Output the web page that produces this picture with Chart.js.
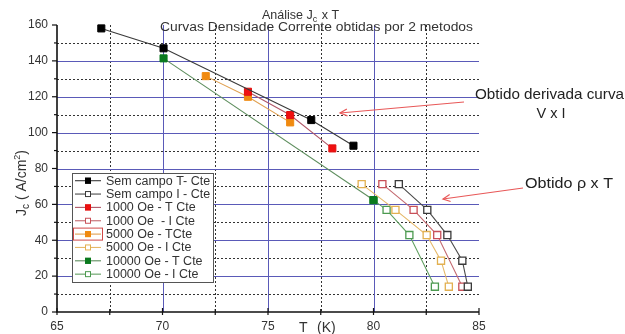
<!DOCTYPE html>
<html><head><meta charset="utf-8">
<script src="https://cdn.jsdelivr.net/npm/chart.js@4/dist/chart.umd.min.js"></script>
<style>html,body{margin:0;padding:0;background:#fff;}#wrap{width:625px;height:334px;position:relative;}</style>
</head><body><div id="wrap"><canvas id="c" width="625" height="334"></canvas></div>
<script>
// ---- data ----
const seriesLabels = ["Sem campo T- Cte","Sem campo I - Cte","1000 Oe - T Cte","1000 Oe  - I Cte","5000 Oe - TCte","5000 Oe - I Cte","10000 Oe - T Cte","10000 Oe - I Cte"];
const tSemCampoT = [67.1, 70.05, 77.05, 79.05];
const jSemCampoT = [158.1, 147.0, 107.0, 92.7];
const tSemCampoI = [81.2, 82.55, 83.5, 84.21, 84.47];
const jSemCampoI = [71.3, 56.9, 42.9, 28.6, 14.1];
const t1000T = [74.05, 76.05, 78.05];
const j1000T = [122.8, 109.8, 91.2];
const t1000I = [80.42, 81.9, 83.02, 84.21];
const j1000I = [71.3, 56.9, 42.9, 14.1];
const t5000T = [72.05, 74.05, 76.05];
const j5000T = [131.5, 120.0, 105.7];
const t5000I = [79.44, 81.04, 82.52, 83.2, 83.57];
const j5000I = [71.3, 56.9, 42.9, 28.6, 14.1];
const t10000T = [70.05, 80.0];
const j10000T = [141.4, 62.4];
const t10000I = [80.0, 80.62, 81.7, 82.91];
const j10000I = [62.4, 56.9, 42.9, 14.1];
const xMajorTicks = [65, 70, 75, 80, 85];
const xMinorTicks = [67.5, 72.5, 77.5, 82.5];
const yMajorTicks = [0, 20, 40, 60, 80, 100, 120, 140, 160];
const yMinorTicks = [10, 30, 50, 70, 90, 110, 130, 150];

const FONT = '"Liberation Sans", Arial, sans-serif';
const pts = (xs, ys) => xs.map((x, i) => ({x: x, y: ys[i]}));

const styles = [
  {line:'#3a3a3a', border:'#000000', fill:'#000000'},
  {line:'#4a4a4a', border:'#3a3a3a', fill:'#ffffff'},
  {line:'#b05868', border:'#e01010', fill:'#f01010'},
  {line:'#c46a70', border:'#c85058', fill:'#ffffff'},
  {line:'#e0a050', border:'#f08a10', fill:'#f08a10'},
  {line:'#e6b868', border:'#e2b050', fill:'#ffffff'},
  {line:'#5e8e5e', border:'#0a7a1e', fill:'#0a7a1e'},
  {line:'#62a062', border:'#4c9a50', fill:'#ffffff'}
];
const allData = [
  pts(tSemCampoT, jSemCampoT), pts(tSemCampoI, jSemCampoI),
  pts(t1000T, j1000T), pts(t1000I, j1000I),
  pts(t5000T, j5000T), pts(t5000I, j5000I),
  pts(t10000T, j10000T), pts(t10000I, j10000I)
];
const datasets = allData.map((d, i) => ({
  label: seriesLabels[i],
  data: d,
  showLine: true,
  borderColor: styles[i].line,
  borderWidth: 1.1,
  tension: 0,
  pointStyle: 'rect',
  pointRadius: 5,
  pointBorderWidth: i % 2 ? 1.3 : 1,
  pointBorderColor: styles[i].border,
  pointBackgroundColor: styles[i].fill,
  clip: false
}));

function fitText(ctx, text, x, y, width, align) {
  const w = ctx.measureText(text).width;
  const s = width / w;
  ctx.save();
  ctx.translate(x, y);
  ctx.scale(s, 1);
  ctx.textAlign = align || 'left';
  ctx.fillText(text, 0, 0);
  ctx.restore();
}

const decor = {
  id: 'decor',
  beforeDatasetsDraw(chart) {
    const ctx = chart.ctx, a = chart.chartArea;
    const xs = chart.scales.x, ys = chart.scales.y;
    ctx.save();
    ctx.lineWidth = 1;
    // minor dotted grid
    ctx.strokeStyle = '#333';
    ctx.setLineDash([2, 2]);
    yMinorTicks.forEach(v => { const p = Math.round(ys.getPixelForValue(v)) + 0.5; ctx.beginPath(); ctx.moveTo(a.left, p); ctx.lineTo(a.right, p); ctx.stroke(); });
    xMinorTicks.forEach(v => { const p = Math.round(xs.getPixelForValue(v)) + 0.5; ctx.beginPath(); ctx.moveTo(p, a.top); ctx.lineTo(p, a.bottom); ctx.stroke(); });
    // major blue grid
    ctx.setLineDash([]);
    ctx.strokeStyle = '#5a5ab8';
    yMajorTicks.filter(v => v > 0 && v < 160).forEach(v => { const p = Math.round(ys.getPixelForValue(v)) + 0.5; ctx.beginPath(); ctx.moveTo(a.left, p); ctx.lineTo(a.right, p); ctx.stroke(); });
    xMajorTicks.filter(v => v > 65 && v < 85).forEach(v => { const p = Math.round(xs.getPixelForValue(v)) + 0.5; ctx.beginPath(); ctx.moveTo(p, a.top); ctx.lineTo(p, a.bottom); ctx.stroke(); });
    ctx.restore();
  },
  afterDatasetsDraw(chart) {
    const ctx = chart.ctx, a = chart.chartArea;
    const xs = chart.scales.x, ys = chart.scales.y;
    ctx.save();
    ctx.strokeStyle = '#111';
    ctx.lineWidth = 1.6;
    ctx.beginPath(); ctx.moveTo(a.left, a.top); ctx.lineTo(a.left, a.bottom); ctx.lineTo(a.right, a.bottom); ctx.stroke();
    ctx.lineWidth = 1.2;
    yMajorTicks.forEach(v => { const p = ys.getPixelForValue(v); ctx.beginPath(); ctx.moveTo(a.left - 5, p); ctx.lineTo(a.left, p); ctx.stroke(); });
    yMinorTicks.forEach(v => { const p = ys.getPixelForValue(v); ctx.beginPath(); ctx.moveTo(a.left - 3, p); ctx.lineTo(a.left, p); ctx.stroke(); });
    xMajorTicks.forEach(v => { const p = xs.getPixelForValue(v); ctx.beginPath(); ctx.moveTo(p, a.bottom - 4); ctx.lineTo(p, a.bottom + 3); ctx.stroke(); });
    xMinorTicks.forEach(v => { const p = xs.getPixelForValue(v); ctx.beginPath(); ctx.moveTo(p, a.bottom - 3); ctx.lineTo(p, a.bottom + 3); ctx.stroke(); });
    ctx.restore();
  },
  afterDraw(chart) {
    const ctx = chart.ctx;
    ctx.save();
    ctx.fillStyle = '#333';
    ctx.textBaseline = 'alphabetic';
    // title: Análise Jc x T
    ctx.font = '12.5px ' + FONT;
    let x = 262;
    const p1 = 'Análise J';
    ctx.fillText(p1, x, 19); x += ctx.measureText(p1).width;
    ctx.font = '9px ' + FONT;
    ctx.fillText('c', x, 22); x += ctx.measureText('c').width + 1;
    ctx.font = '12.5px ' + FONT;
    ctx.fillText(' x T', x, 19);
    // subtitle
    ctx.font = '12.5px ' + FONT;
    fitText(ctx, 'Curvas Densidade Corrente obtidas por 2 metodos', 160, 31, 313, 'left');
    // x axis title
    ctx.font = '14px ' + FONT;
    ctx.fillText('T', 299, 332);
    ctx.fillText('(K)', 317, 332);
    // y axis title (rotated)
    ctx.translate(26, 183);
    ctx.rotate(-Math.PI / 2);
    const parts = [
      {t:'J', f:14, dy:0}, {t:'c', f:10, dy:3}, {t:' ( A/cm', f:14, dy:0}, {t:'2', f:9, dy:-6}, {t:')', f:14, dy:0}
    ];
    let tw = 0;
    parts.forEach(p => { ctx.font = p.f + 'px ' + FONT; p.w = ctx.measureText(p.t).width; tw += p.w; });
    let px = -tw / 2;
    parts.forEach(p => { ctx.font = p.f + 'px ' + FONT; ctx.fillText(p.t, px, p.dy); px += p.w; });
    ctx.setTransform(1, 0, 0, 1, 0, 0);
    // annotations
    ctx.fillStyle = '#222';
    ctx.font = '14.5px ' + FONT;
    fitText(ctx, 'Obtido derivada curva', 475, 99, 149, 'left');
    ctx.textAlign = 'center';
    ctx.fillText('V x I', 551, 118);
    ctx.textAlign = 'left';
    ctx.font = '15px ' + FONT;
    fitText(ctx, 'Obtido \u03c1 x T', 525, 188, 88, 'left');
    // arrows
    function arrow(x1, y1, x2, y2) {
      ctx.strokeStyle = '#e85858';
      ctx.lineWidth = 1.2;
      ctx.beginPath(); ctx.moveTo(x1, y1); ctx.lineTo(x2, y2); ctx.stroke();
      const ang = Math.atan2(y2 - y1, x2 - x1);
      const L = 8, sp = 0.45;
      ctx.beginPath();
      ctx.moveTo(x2 - L * Math.cos(ang - sp), y2 - L * Math.sin(ang - sp));
      ctx.lineTo(x2, y2);
      ctx.lineTo(x2 - L * Math.cos(ang + sp), y2 - L * Math.sin(ang + sp));
      ctx.stroke();
    }
    arrow(464, 102, 340, 113);
    arrow(523, 188, 443, 199);
    // legend
    const lx = 72, ly = 173, lw = 141, lh = 109;
    ctx.fillStyle = '#fff';
    ctx.fillRect(lx, ly, lw, lh);
    ctx.strokeStyle = '#555';
    ctx.lineWidth = 1;
    ctx.strokeRect(lx + 0.5, ly + 0.5, lw, lh);
    ctx.font = '12.5px ' + FONT;
    chart.data.datasets.forEach((ds, i) => {
      const y = 180.7 + i * 13.35;
      ctx.strokeStyle = ds.borderColor;
      ctx.lineWidth = 1.1;
      ctx.beginPath(); ctx.moveTo(75, y); ctx.lineTo(101, y); ctx.stroke();
      ctx.fillStyle = ds.pointBackgroundColor;
      ctx.fillRect(85, y - 3, 6, 6);
      ctx.strokeStyle = ds.pointBorderColor;
      ctx.lineWidth = 1;
      ctx.strokeRect(85.5, y - 2.5, 5, 5);
      ctx.fillStyle = '#333';
      ctx.textBaseline = 'middle';
      ctx.fillText(ds.label, 106, y + 0.5);
      if (i === 4) {
        ctx.strokeStyle = '#d04848';
        ctx.strokeRect(73.5, y - 6, 29, 12);
      }
    });
    ctx.restore();
  }
};

new Chart(document.getElementById('c'), {
  type: 'scatter',
  data: { datasets: datasets },
  options: {
    responsive: false,
    animation: false,
    devicePixelRatio: 1,
    layout: { padding: { top: 25, right: 146, left: 0, bottom: 0 } },
    plugins: { legend: { display: false }, tooltip: { enabled: false }, title: { display: false } },
    scales: {
      x: {
        type: 'linear', min: 65, max: 85,
        afterFit: s => { s.height = 22; },
        afterBuildTicks: s => { s.ticks = xMajorTicks.map(v => ({value: v})); },
        grid: { display: false, drawTicks: false },
        border: { display: false },
        ticks: { padding: 7, color: '#333', font: { size: 12, family: FONT }, maxRotation: 0, autoSkip: false }
      },
      y: {
        type: 'linear', min: 0, max: 160,
        afterFit: s => { s.width = 57; },
        afterBuildTicks: s => { s.ticks = yMajorTicks.map(v => ({value: v})); },
        grid: { display: false, drawTicks: false },
        border: { display: false },
        ticks: { padding: 9, color: '#333', font: { size: 12, family: FONT }, autoSkip: false }
      }
    }
  },
  plugins: [decor]
});
</script>
</body></html>
